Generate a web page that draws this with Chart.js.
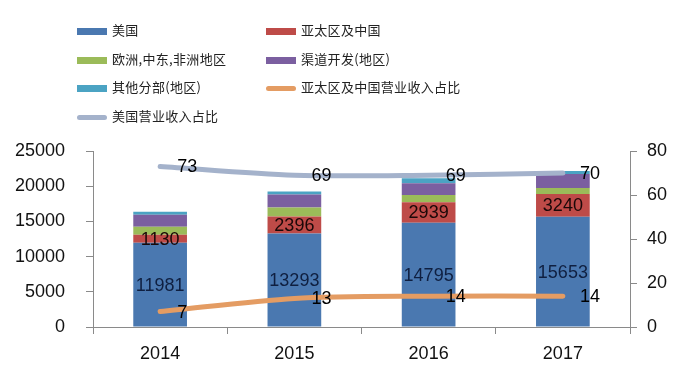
<!DOCTYPE html>
<html>
<head>
<meta charset="utf-8">
<script src="https://cdn.jsdelivr.net/npm/chart.js@4/dist/chart.umd.min.js"></script>
<style>
  html, body { margin: 0; padding: 0; background: #fff; }
  #wrap { position: relative; width: 690px; height: 379px; }
  #legend { position: absolute; left: 0; top: 0; width: 690px; height: 140px; font-family: "Noto Sans CJK SC", sans-serif; font-size: 13px; color: #222; }
  .item { position: absolute; height: 20px; line-height: 20px; white-space: nowrap; }
  .sw { position: absolute; left: 0; top: 7px; width: 30px; height: 7px; }
  .sw.line { top: 8px; height: 5px; border-radius: 3px; }
  .txt { position: absolute; left: 35px; top: -1px; letter-spacing: 0.3px; }
</style>
</head>
<body>
<div id="wrap">
  <canvas id="c" width="690" height="379"></canvas>
  <div id="legend"></div>
</div>
<script>
const categories = ['2014', '2015', '2016', '2017'];
const usRevenue = [11981, 13293, 14795, 15653];
const apacRevenue = [1130, 2396, 2939, 3240];
const emeaRevenue = [1140, 1280, 1000, 850];
const channelRevenue = [1700, 1850, 1700, 2000];
const otherRevenue = [430, 430, 700, 430];
const apacShare = [7, 13, 14, 14];
const usShare = [73, 69, 69, 70];
const seriesNames = ['美国', '亚太区及中国', '欧洲,中东,非洲地区', '渠道开发(地区)', '其他分部(地区)', '亚太区及中国营业收入占比', '美国营业收入占比'];
const leftTicks = [0, 5000, 10000, 15000, 20000, 25000];
const rightTicks = [0, 20, 40, 60, 80];

const colors = ['#4A78B0', '#BE4B48', '#9BBB59', '#7B5FA0', '#4BA3C3', '#E49C63', '#A4B2CB'];

const barDs = (label, data, color, labelColor) => ({
  type: 'bar', label, data, backgroundColor: color, borderWidth: 0,
  stack: 's', yAxisID: 'y', order: 2,
  barPercentage: 0.4, categoryPercentage: 1.0,
  valueLabel: labelColor ? { color: labelColor } : null
});

const datasets = [
  barDs(seriesNames[0], usRevenue, colors[0], '#0f1f40'),
  barDs(seriesNames[1], apacRevenue, colors[1], '#1a0808'),
  barDs(seriesNames[2], emeaRevenue, colors[2], null),
  barDs(seriesNames[3], channelRevenue, colors[3], null),
  barDs(seriesNames[4], otherRevenue, colors[4], null),
  {
    type: 'line', label: seriesNames[5], data: apacShare, borderColor: colors[5],
    borderWidth: 5, pointRadius: 0, tension: 0.3, yAxisID: 'y1', order: 1,
    borderCapStyle: 'round', valueLabel: { color: '#000', line: true }
  },
  {
    type: 'line', label: seriesNames[6], data: usShare, borderColor: colors[6],
    borderWidth: 5, pointRadius: 0, tension: 0.3, yAxisID: 'y1', order: 1,
    borderCapStyle: 'round', valueLabel: { color: '#000', line: true }
  }
];

const labelPlugin = {
  id: 'valueLabels',
  afterDatasetsDraw(chart) {
    const ctx = chart.ctx;
    ctx.save();
    ctx.font = '18px "Liberation Sans", Arial, sans-serif';
    ctx.textBaseline = 'middle';
    chart.data.datasets.forEach((ds, i) => {
      if (!ds.valueLabel) return;
      const meta = chart.getDatasetMeta(i);
      meta.data.forEach((el, j) => {
        const v = ds.data[j];
        ctx.fillStyle = ds.valueLabel.color;
        if (ds.valueLabel.line) {
          ctx.textAlign = 'left';
          ctx.fillText(String(v), el.x + 17, el.y + 1);
        } else {
          ctx.textAlign = 'center';
          ctx.fillText(String(v), el.x, (el.y + el.base) / 2 + 1);
        }
      });
    });
    ctx.restore();
  }
};

const tickFont = { family: '"Liberation Sans", Arial, sans-serif', size: 18 };
const axisGray = '#8a8a8a';
const plain = v => String(v);

new Chart(document.getElementById('c'), {
  type: 'bar',
  data: { labels: categories, datasets },
  options: {
    responsive: false,
    animation: false,
    layout: { padding: { top: 151, left: 0, right: 0, bottom: 0 } },
    plugins: { legend: { display: false }, tooltip: { enabled: false } },
    scales: {
      x: {
        stacked: true,
        offset: true,
        grid: { display: true, drawOnChartArea: false, drawTicks: true, tickLength: 7, color: axisGray, offset: true },
        border: { display: true, color: axisGray, width: 1 },
        ticks: { font: tickFont, color: '#111', padding: 9, maxRotation: 0 },
        afterFit(s) { s.height = 379 - 327; }
      },
      y: {
        stacked: true, position: 'left', min: 0, max: 25000,
        afterBuildTicks(s) { s.ticks = leftTicks.map(v => ({ value: v })); },
        grid: { display: true, drawOnChartArea: false, drawTicks: true, tickLength: 7, color: axisGray },
        border: { display: true, color: axisGray, width: 1 },
        ticks: { font: tickFont, color: '#111', padding: 21, callback: plain },
        afterFit(s) { s.width = 93; }
      },
      y1: {
        position: 'right', min: 0, max: 80,
        afterBuildTicks(s) { s.ticks = rightTicks.map(v => ({ value: v })); },
        grid: { display: true, drawOnChartArea: false, drawTicks: true, tickLength: 7, color: axisGray },
        border: { display: true, color: axisGray, width: 1 },
        ticks: { font: tickFont, color: '#111', padding: 10, callback: plain },
        afterFit(s) { s.width = 60; }
      }
    }
  },
  plugins: [labelPlugin]
});

// HTML legend, two columns, row-major
const legend = document.getElementById('legend');
const colX = [77, 266];
const rowY = [21, 50, 78, 107];
seriesNames.forEach((name, i) => {
  const item = document.createElement('div');
  item.className = 'item';
  item.style.left = colX[i % 2] + 'px';
  item.style.top = rowY[Math.floor(i / 2)] + 'px';
  const sw = document.createElement('div');
  sw.className = 'sw' + (i >= 5 ? ' line' : '');
  sw.style.background = colors[i];
  const t = document.createElement('span');
  t.className = 'txt';
  t.textContent = name;
  item.appendChild(sw);
  item.appendChild(t);
  legend.appendChild(item);
});
</script>
</body>
</html>
